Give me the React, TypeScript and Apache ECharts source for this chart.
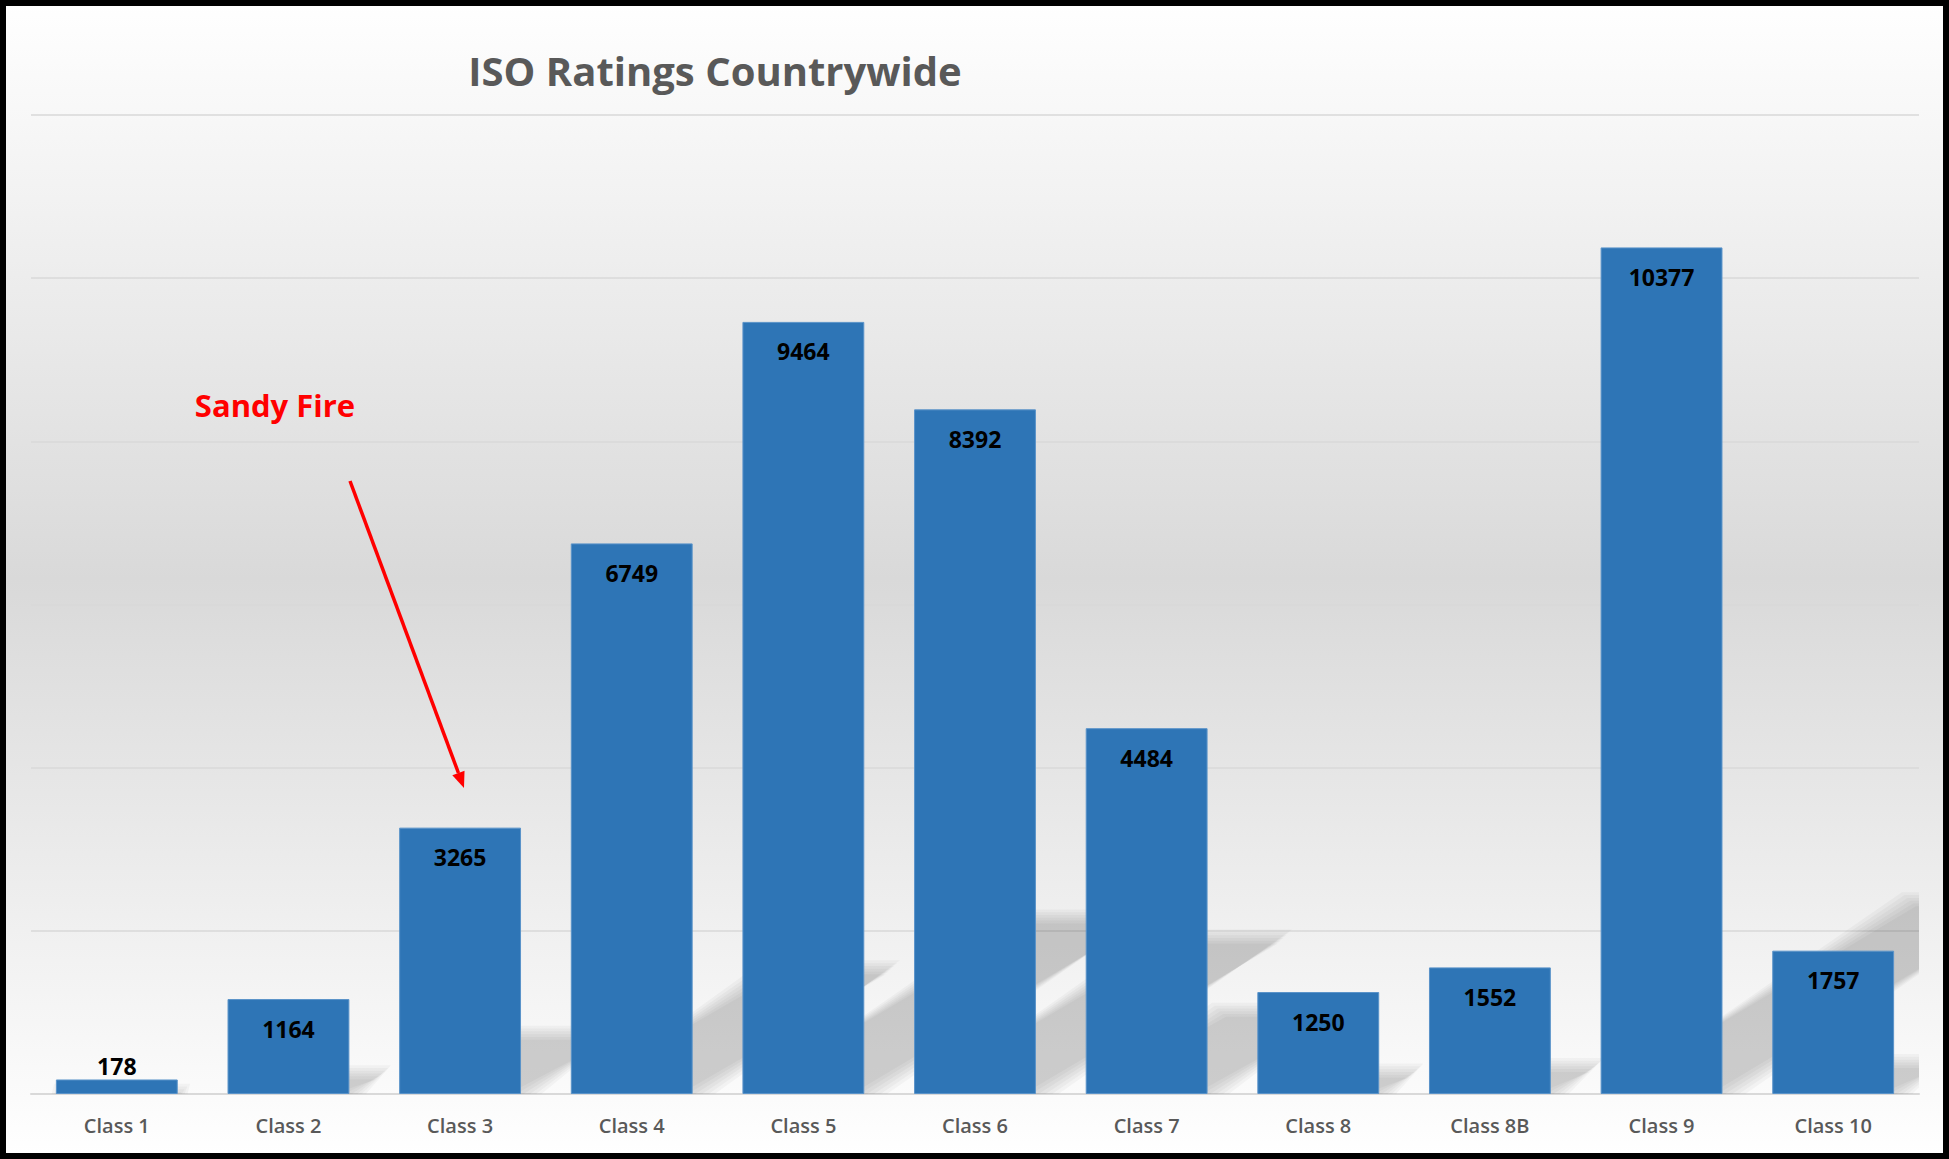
import React, { useEffect, useRef } from "react";
import * as echarts from "echarts";

const categories = ["Class 1", "Class 2", "Class 3", "Class 4", "Class 5", "Class 6", "Class 7", "Class 8", "Class 8B", "Class 9", "Class 10"];
const counts = [178, 1164, 3265, 6749, 9464, 8392, 4484, 1250, 1552, 10377, 1757];
const yMin = 0;
const yMax = 12000;
const yStep = 2000;
const titleText = "ISO Ratings Countrywide";
const noteText = "Sandy Fire";

const W = 1949;
const H = 1159;
const GAP = 0.29;
const BLUR_STEPS = [-7, -4.2, -1.4, 1.4, 4.2, 7];

export default function App() {
  const ref = useRef<HTMLDivElement>(null);

  useEffect(() => {
    const chart = echarts.init(ref.current as HTMLDivElement, null, { renderer: "svg" });

    // annotation arrow geometry
    const start = [350, 481];
    const tip = [464, 788];
    const dx = tip[0] - start[0];
    const dy = tip[1] - start[1];
    const len = Math.sqrt(dx * dx + dy * dy);
    const ux = dx / len, uy = dy / len;
    const headLen = 16, headHalf = 6.5;
    const bx = tip[0] - ux * headLen, by = tip[1] - uy * headLen;
    const nx = uy, ny = -ux;

    chart.setOption({
      animation: false,
      backgroundColor: {
        type: "linear", x: 0, y: 0, x2: 0, y2: 1,
        colorStops: [
          { offset: 0, color: "#ffffff" },
          { offset: 0.5, color: "#d9d9d9" },
          { offset: 1, color: "#ffffff" },
        ],
      },
      title: {
        text: titleText,
        left: 715,
        top: 70,
        padding: 0,
        textAlign: "center",
        textVerticalAlign: "middle",
        textStyle: { color: "#595959", fontFamily: "Open Sans", fontWeight: "bold", fontSize: 40 },
      },
      grid: { left: 31, right: 30, top: 115, bottom: 65 },
      xAxis: {
        type: "category",
        data: categories,
        axisTick: { show: false },
        axisLine: { lineStyle: { color: "#d9d9d9", width: 2 } },
        axisLabel: { color: "#595959", fontFamily: "Open Sans", fontSize: 20, fontWeight: 600, margin: 21 },
      },
      yAxis: {
        type: "value",
        min: yMin,
        max: yMax,
        interval: yStep,
        axisLabel: { show: false },
        axisLine: { show: false },
        axisTick: { show: false },
        splitLine: { lineStyle: { color: "#d9d9d9", width: 1.5 } },
      },
      series: [
        {
          type: "custom",
          name: "shadow",
          z: 1,
          clip: true,
          silent: true,
          data: counts.map((v, i) => [i, v]),
          renderItem: (params: any, api: any) => {
            const idx = api.value(0);
            const v = api.value(1);
            const b = api.coord([idx, 0]);
            const t = api.coord([idx, v]);
            const w = api.size([1, 0])[0] * (1 - GAP);
            const h = b[1] - t[1];
            const x0 = b[0] - w / 2, x1 = b[0] + w / 2, y0 = b[1] + 4;
            const sh = h * 0.23 + 4, sx = h * 0.364;
            return {
              type: "group",
              children: BLUR_STEPS.map((d) => ({
                type: "polygon",
                shape: {
                  points: [
                    [x0 - d, y0 + d],
                    [x1 + d, y0 + d],
                    [x1 + sx + d, y0 - sh - d],
                    [x0 + sx - d, y0 - sh - d],
                  ],
                },
                style: { fill: "rgba(0,0,0,0.032)" },
              })),
            };
          },
        },
        {
          type: "bar",
          name: "ISO Ratings",
          z: 3,
          barCategoryGap: "29%",
          data: counts.map((v) =>
            v < 600 ? { value: v, label: { position: "top", distance: 2 } } : v
          ),
          itemStyle: { color: "#2E75B6", borderColor: "#5a93c9", borderWidth: 1 },
          label: {
            show: true,
            position: "insideTop",
            distance: 18,
            color: "#000000",
            fontFamily: "Open Sans",
            fontWeight: "bold",
            fontSize: 23,
          },
        },
      ],
      graphic: [
        {
          type: "text",
          x: 275,
          y: 405,
          z: 10,
          style: {
            text: noteText,
            fill: "#ff0000",
            fontFamily: "Open Sans",
            fontWeight: "bold",
            fontSize: 31,
            align: "center",
            verticalAlign: "middle",
            textAlign: "center",
            textVerticalAlign: "middle",
          },
        },
        {
          type: "line",
          z: 10,
          shape: { x1: start[0], y1: start[1], x2: bx, y2: by },
          style: { stroke: "#ff0000", lineWidth: 3.5 },
        },
        {
          type: "polygon",
          z: 10,
          shape: {
            points: [
              [tip[0], tip[1]],
              [bx + nx * headHalf, by + ny * headHalf],
              [bx - nx * headHalf, by - ny * headHalf],
            ],
          },
          style: { fill: "#ff0000" },
        },
        {
          type: "rect",
          z: 100,
          shape: { x: 3, y: 3, width: W - 6, height: H - 6 },
          style: { fill: "none", stroke: "#000000", lineWidth: 6 },
        },
      ],
    });

    return () => chart.dispose();
  }, []);

  return (
    <div
      ref={ref}
      style={{ position: "absolute", left: 0, top: 0, width: W, height: H }}
    />
  );
}
